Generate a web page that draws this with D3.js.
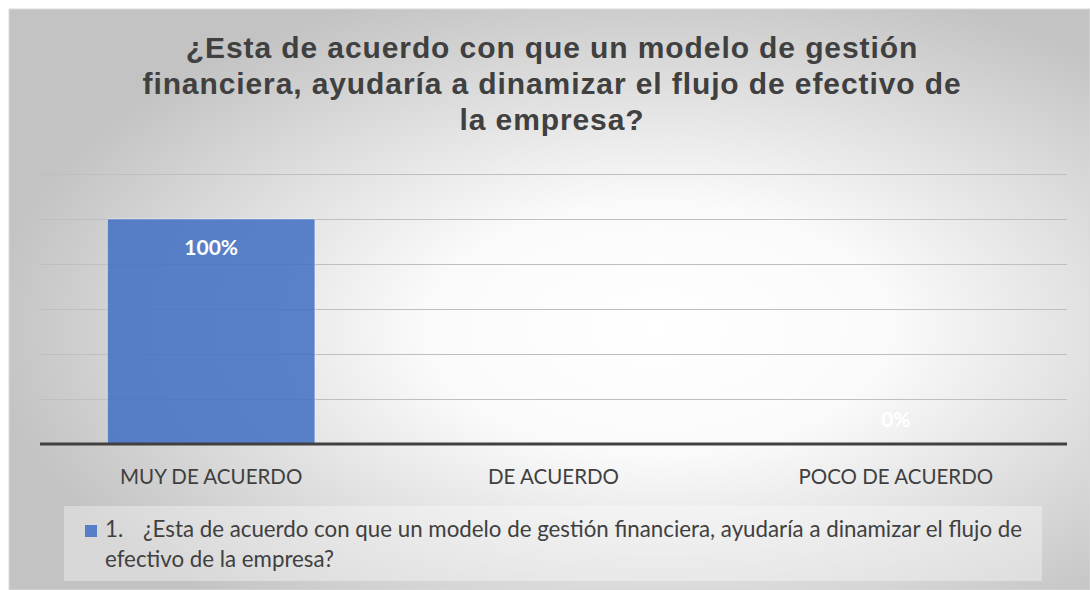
<!DOCTYPE html>
<html>
<head>
<meta charset="utf-8">
<script src="https://cdn.jsdelivr.net/npm/d3@7"></script>
<style>
  html, body { margin: 0; padding: 0; background: #fff; }
  svg { display: block; }
</style>
</head>
<body>
<script>
const w = 1090
const h = 590

const titleLines = ['¿Esta de acuerdo con que un modelo de gestión',
  'financiera, ayudaría a dinamizar el flujo de efectivo de',
  'la empresa?']
const categories = ['MUY DE ACUERDO', 'DE ACUERDO', 'POCO DE ACUERDO']
const values = [1, null, 0]
const valueLabels = ['100%', '', '0%']
const gridTicks = [0.2, 0.4, 0.6, 0.8, 1.0, 1.2]
const legendNumber = '1.'
const legendLines = ['¿Esta de acuerdo con que un modelo de gestión financiera, ayudaría a dinamizar el flujo de',
  'efectivo de la empresa?']

const barColor = '#4472c4'
const textColor = '#404040'
const bodyFont = 'Lato, "Open Sans", sans-serif'

const svg = d3.select('body').append('svg').attr('width', w).attr('height', h)

// background gradient like the office chart style
const defs = svg.append('defs')
const grad = defs.append('radialGradient').attr('id', 'bg')
  .attr('cx', '0.6').attr('cy', '0.55').attr('r', '0.62')
grad.append('stop').attr('offset', '0').attr('stop-color', '#ffffff')
grad.append('stop').attr('offset', '0.35').attr('stop-color', '#fafafa')
grad.append('stop').attr('offset', '1').attr('stop-color', '#c3c3c3')

svg.append('rect').attr('x', 9).attr('y', 9).attr('width', w - 9).attr('height', h - 9)
  .attr('fill', 'url(#bg)').attr('stroke', '#d9d9d9').attr('stroke-width', 1)

// title
svg.append('g').selectAll('text').data(titleLines).enter().append('text')
  .attr('x', 552)
  .attr('y', (d, i) => 58 + i * 36)
  .attr('text-anchor', 'middle')
  .attr('font-family', '"Liberation Sans", Arial, sans-serif')
  .attr('font-weight', 'bold')
  .attr('font-size', 30)
  .attr('letter-spacing', 0.9)
  .attr('fill', textColor)
  .text(d => d)

const x = d3.scaleBand().domain(categories).range([40, 1067]).paddingInner(0.394).paddingOuter(0.197)
const y = d3.scaleLinear().domain([0, 1.2]).range([444, 174])

// gridlines
const grid = svg.append('g').attr('transform', 'translate(40,0)')
  .call(d3.axisLeft(y).tickValues(gridTicks).tickSize(-(1067 - 40)).tickFormat(''))
grid.select('.domain').remove()
grid.selectAll('.tick line').attr('stroke', '#bfbfbf').attr('stroke-width', 1)

// bars
svg.append('g').selectAll('rect').data(values.map((v, i) => ({ c: categories[i], v: v })).filter(d => d.v))
  .enter().append('rect')
  .attr('x', d => x(d.c))
  .attr('y', d => y(d.v))
  .attr('width', x.bandwidth())
  .attr('height', d => y(0) - y(d.v))
  .attr('fill', barColor)
  .attr('fill-opacity', 0.88)
  .attr('stroke', 'rgba(255,255,255,0.45)')
  .attr('stroke-width', 1)

// data labels (inside end; a zero bar gets its label just above the base)
svg.append('g').selectAll('text').data(values.map((v, i) => ({ c: categories[i], v: v, t: valueLabels[i] })).filter(d => d.t))
  .enter().append('text')
  .attr('x', d => x(d.c) + x.bandwidth() / 2)
  .attr('y', d => d.v > 0 ? y(d.v) + 36 : y(0) - 17)
  .attr('text-anchor', 'middle')
  .attr('font-family', bodyFont)
  .attr('font-weight', 'bold')
  .attr('font-size', 21)
  .attr('fill', '#ffffff')
  .text(d => d.t)

// category axis
const xAxis = svg.append('g').attr('transform', 'translate(0,' + y(0) + ')')
  .call(d3.axisBottom(x).tickSize(0).tickPadding(25))
xAxis.select('.domain').attr('stroke', textColor).attr('stroke-width', 3)
  .attr('d', 'M40,0H1067')
xAxis.selectAll('.tick text')
  .attr('font-family', bodyFont)
  .attr('font-size', 20.5)
  .attr('fill', textColor)

// legend
const legend = svg.append('g')
legend.append('rect').attr('x', 64).attr('y', 506).attr('width', 1042 - 64).attr('height', 581 - 506)
  .attr('fill', '#ffffff').attr('fill-opacity', 0.35)
legend.append('rect').attr('x', 85).attr('y', 525).attr('width', 12).attr('height', 12)
  .attr('fill', barColor).attr('fill-opacity', 0.88)
legend.append('text')
  .attr('x', 105).attr('y', 537)
  .attr('font-family', bodyFont).attr('font-size', 22.3).attr('fill', textColor)
  .text(legendNumber)
legend.selectAll('text.line').data(legendLines).enter().append('text')
  .attr('class', 'line')
  .attr('x', (d, i) => i === 0 ? 143 : 105)
  .attr('y', (d, i) => 537 + i * 30)
  .attr('font-family', bodyFont)
  .attr('font-size', 22.3)
  .attr('fill', textColor)
  .text(d => d)
</script>
</body>
</html>
